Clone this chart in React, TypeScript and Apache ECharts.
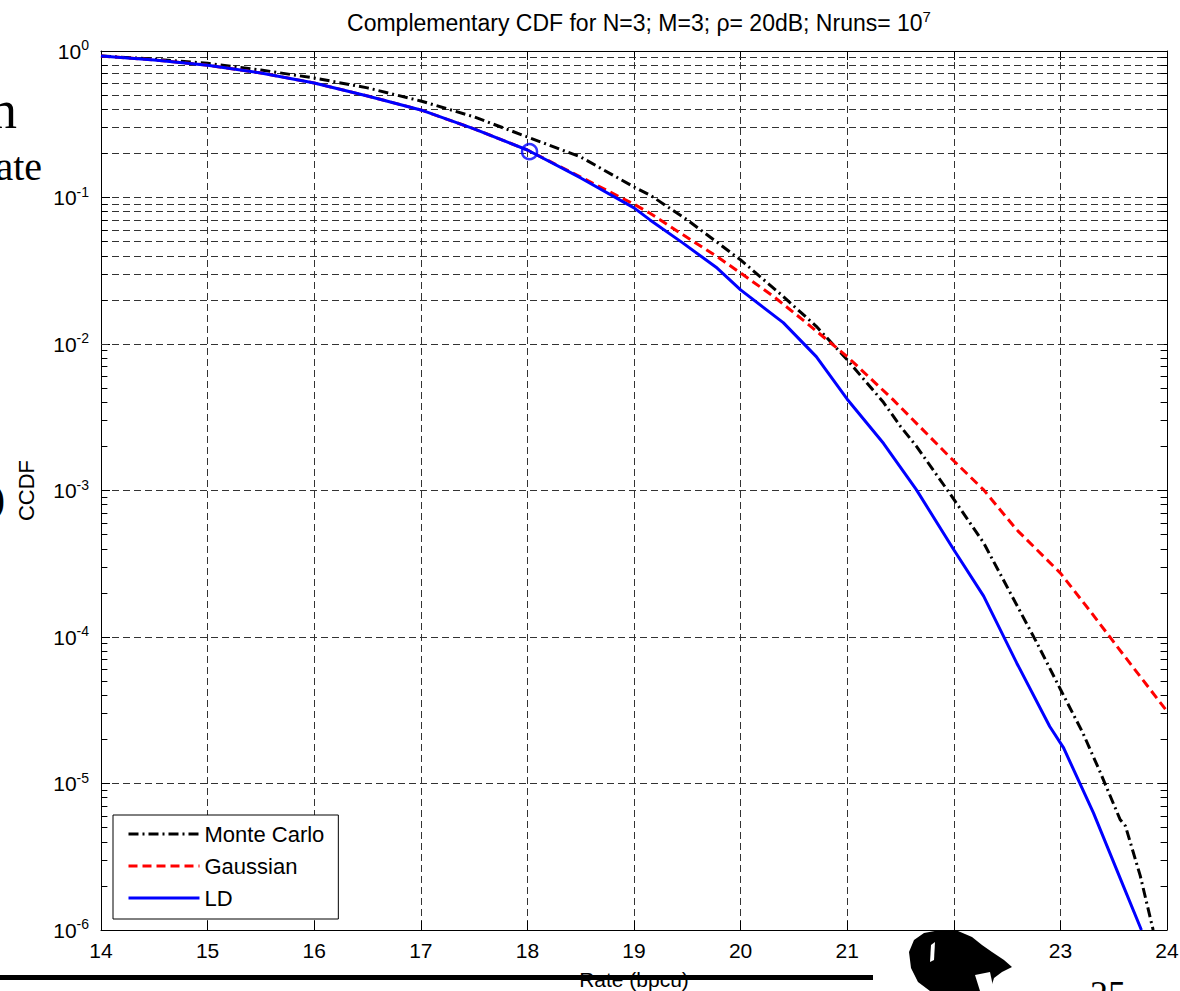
import React, { useEffect, useRef } from "react";
import * as echarts from "echarts";

// ---- data ----
const xTicks = [14, 15, 16, 17, 18, 19, 20, 21, 22, 23, 24];
const decadeExponents = [0, -1, -2, -3, -4, -5, -6];

const monteCarlo: [number, number][] = [
  [14, 0.925], [14.5, 0.88], [15, 0.824], [15.5, 0.742], [16, 0.654], [16.5, 0.56],
  [17, 0.456], [17.5, 0.355], [18, 0.259], [18.5, 0.189], [19, 0.118], [19.15, 0.104],
  [19.5, 0.0703], [20, 0.0375], [20.4, 0.0211], [20.71, 0.0132], [21, 0.0078],
  [21.34, 0.004], [21.5, 0.00274], [21.65, 0.002], [21.96, 9.6e-4], [22.28, 4.39e-4],
  [22.53, 2.0e-4], [22.78, 9.1e-5], [23.0, 4.4e-5], [23.21, 2.22e-5], [23.37, 1.21e-5],
  [23.56, 5.68e-6], [23.61, 5.13e-6], [23.75, 2.33e-6], [23.87, 1e-6],
];

const gaussian: [number, number][] = [
  [14, 0.925], [14.5, 0.869], [15, 0.8], [15.5, 0.708], [16, 0.605], [16.5, 0.493],
  [17, 0.396], [17.5, 0.294], [18, 0.211], [18.5, 0.138], [19, 0.09], [19.15, 0.078],
  [19.46, 0.0556], [19.78, 0.0395], [20, 0.0305], [20.31, 0.0211], [20.62, 0.0139],
  [21, 0.0082], [21.43, 0.00417], [21.96, 0.0017], [22.28, 0.00101], [22.59, 5.4e-4],
  [23.0, 2.73e-4], [23.28, 1.5e-4], [23.53, 8.65e-5], [24, 3.11e-5],
];

const ld: [number, number][] = [
  [14, 0.925], [14.5, 0.869], [15, 0.8], [15.5, 0.708], [16, 0.605], [16.5, 0.493],
  [17, 0.396], [17.5, 0.294], [18, 0.211], [18.5, 0.136], [19, 0.085], [19.15, 0.0703],
  [19.46, 0.0488], [19.78, 0.033], [20, 0.0234], [20.4, 0.014], [20.71, 0.0082],
  [21, 0.0042], [21.34, 0.0021], [21.65, 0.00101], [22.0, 3.94e-4], [22.28, 1.9e-4],
  [22.59, 6.65e-5], [22.9, 2.45e-5], [23.03, 1.75e-5], [23.31, 6.3e-6], [23.59, 2.0e-6],
  [23.76, 1e-6],
];

const marker: [number, number][] = [[18.02, 0.2056]];

const minorMultipliers = [2, 3, 4, 5, 6, 7, 8, 9];
const minorDecades = [-6, -5, -4, -3, -2, -1];

const FONT = '"Liberation Sans", Arial, sans-serif';
const SERIF = '"Liberation Serif", "Times New Roman", serif';

export default function App() {
  const ref = useRef<HTMLDivElement>(null);

  useEffect(() => {
    if (!ref.current) return;
    const chart = echarts.init(ref.current, undefined, { renderer: "svg" });

    const minorVals: number[] = [];
    minorDecades.forEach((d) =>
      minorMultipliers.forEach((m) => minorVals.push(m * Math.pow(10, d)))
    );
    const xMin = xTicks[0];
    const xMax = xTicks[xTicks.length - 1];
    const tickLen = 0.06;

    const gridColor = "#333";
    const gridDash = [7, 4];

    const axisCommon = {
      axisLine: { show: true, onZero: false, lineStyle: { color: "#000", width: 1 } },
      axisTick: { show: true, inside: true, length: 9, lineStyle: { color: "#000", width: 1 } },
    };

    const option: any = {
      animation: false,
      backgroundColor: "#fff",
      title: {
        text: "{a|Complementary CDF for N=3; M=3; ρ= 20dB; Nruns= 10}{s|7}",
        left: 634,
        top: 4,
        textAlign: "center",
        textStyle: {
          fontWeight: "normal",
          rich: {
            a: { fontSize: 23, fontFamily: FONT, fontWeight: "normal", color: "#000", lineHeight: 28 },
            s: { fontSize: 15, fontFamily: FONT, fontWeight: "normal", color: "#000", verticalAlign: "top", lineHeight: 15 },
          },
        },
      },
      legend: {
        data: ["Monte Carlo", "Gaussian", "LD"],
        orient: "vertical",
        left: 113,
        top: 815,
        itemWidth: 71,
        itemHeight: 14,
        itemGap: 10,
        padding: [8, 14, 10, 14],
        backgroundColor: "#fff",
        borderColor: "#000",
        borderWidth: 1,
        borderRadius: 0,
        itemStyle: { opacity: 0 },
        lineStyle: { width: 3 },
        textStyle: { fontSize: 22, fontFamily: FONT, color: "#000" },
        z: 10,
      },
      grid: { left: 101, right: 13, top: 51, bottom: 61, containLabel: false, outerBoundsMode: "none" },
      xAxis: [
        {
          type: "value",
          min: xMin,
          max: xMax,
          interval: 1,
          position: "bottom",
          ...axisCommon,
          axisLabel: { fontSize: 21, fontFamily: FONT, color: "#000", margin: 10 },
          splitLine: { show: true, lineStyle: { color: gridColor, type: gridDash, width: 1 } },
          name: "Rate (bpcu)",
          nameLocation: "middle",
          nameGap: 39,
          nameTextStyle: { fontSize: 21, fontFamily: FONT, color: "#000" },
        },
        {
          type: "value",
          min: xMin,
          max: xMax,
          interval: 1,
          position: "top",
          ...axisCommon,
          axisLabel: { show: false },
          splitLine: { show: false },
        },
      ],
      yAxis: [
        {
          type: "log",
          logBase: 10,
          min: Math.pow(10, decadeExponents[decadeExponents.length - 1]),
          max: Math.pow(10, decadeExponents[0]),
          splitNumber: 6,
          position: "left",
          ...axisCommon,
          axisLabel: {
            margin: 12,
            formatter: (v: number) => `{b|10}{s|${Math.round(Math.log10(v))}}`,
            rich: {
              b: { fontSize: 21, fontFamily: FONT, color: "#000", lineHeight: 26 },
              s: { fontSize: 14, fontFamily: FONT, color: "#000", verticalAlign: "top", lineHeight: 14 },
            },
          },
          splitLine: { show: true, lineStyle: { color: gridColor, type: gridDash, width: 1 } },
          name: "CCDF",
          nameLocation: "middle",
          nameGap: 64,
          nameRotate: 90,
          nameTextStyle: { fontSize: 22, fontFamily: FONT, color: "#000" },
        },
        {
          type: "log",
          logBase: 10,
          min: Math.pow(10, decadeExponents[decadeExponents.length - 1]),
          max: Math.pow(10, decadeExponents[0]),
          splitNumber: 6,
          position: "right",
          ...axisCommon,
          axisLabel: { show: false },
          splitLine: { show: false },
        },
      ],
      series: [
        {
          name: "grid-minor",
          type: "line",
          data: [],
          silent: true,
          z: 1,
          markLine: {
            silent: true,
            z: 1,
            symbol: ["none", "none"],
            label: { show: false },
            emphasis: { disabled: true },
            lineStyle: { color: gridColor, type: gridDash, width: 1 },
            data: minorVals.map((v) => ({ yAxis: v })),
          },
        },
        {
          name: "ticks-minor",
          type: "line",
          data: [],
          silent: true,
          z: 1,
          markLine: {
            silent: true,
            z: 1,
            symbol: ["none", "none"],
            label: { show: false },
            emphasis: { disabled: true },
            lineStyle: { color: "#000", type: "solid", width: 1 },
            data: minorVals.flatMap((v) => [
              [{ coord: [xMin, v] }, { coord: [xMin + tickLen, v] }],
              [{ coord: [xMax - tickLen, v] }, { coord: [xMax, v] }],
            ]),
          },
        },
        {
          name: "Monte Carlo",
          type: "line",
          data: monteCarlo,
          symbol: "none",
          lineStyle: { color: "#000", width: 3, type: [10, 4, 2, 4] },
          itemStyle: { color: "#000" },
          z: 3,
        },
        {
          name: "Gaussian",
          type: "line",
          data: gaussian,
          symbol: "none",
          lineStyle: { color: "#ff0000", width: 3, type: [9, 5] },
          itemStyle: { color: "#ff0000" },
          z: 3,
        },
        {
          name: "LD",
          type: "line",
          data: ld,
          symbol: "none",
          lineStyle: { color: "#0000ff", width: 3, type: "solid" },
          itemStyle: { color: "#0000ff" },
          z: 3,
        },
        {
          name: "marker",
          type: "scatter",
          data: marker,
          symbol: "circle",
          symbolSize: 15,
          itemStyle: { color: "rgba(0,0,0,0)", borderColor: "#0000ff", borderWidth: 2.5 },
          z: 4,
        },
      ],
      graphic: [
        { type: "text", x: 17, y: 110, z: 50, style: { text: "n", font: `54px ${SERIF}`, fill: "#000", align: "right", verticalAlign: "middle" } },
        { type: "text", x: 42, y: 166, z: 50, style: { text: "ate", font: `40px ${SERIF}`, fill: "#000", align: "right", verticalAlign: "middle" } },
        { type: "text", x: 5, y: 498, z: 50, style: { text: ")", font: `40px ${SERIF}`, fill: "#000", align: "right", verticalAlign: "middle" } },
        { type: "rect", z: 50, shape: { x: 0, y: 975, width: 873, height: 5 }, style: { fill: "#000" } },
        {
          type: "polygon",
          z: 60,
          shape: {
            points: [
              [909, 952], [914, 940], [924, 933], [940, 930], [958, 931], [972, 937],
              [982, 945], [992, 952], [1004, 960], [1012, 967], [1002, 972], [994, 978],
              [990, 991], [930, 991], [918, 982], [911, 968],
            ],
          },
          style: { fill: "#000" },
        },
        {
          type: "polygon",
          z: 61,
          shape: { points: [[931, 945], [935, 942], [934, 960], [930, 962]] },
          style: { fill: "#fff" },
        },
        {
          type: "polygon",
          z: 61,
          shape: { points: [[975, 975], [990, 972], [994, 991], [980, 991]] },
          style: { fill: "#fff" },
        },
        { type: "text", x: 1090, y: 976, z: 50, style: { text: "25", font: `36px ${SERIF}`, fill: "#000", align: "left", verticalAlign: "top" } },
      ],
    };

    chart.setOption(option);
    return () => chart.dispose();
  }, []);

  return (
    <div
      ref={ref}
      style={{ position: "fixed", left: 0, top: 0, width: 1180, height: 991, background: "#fff" }}
    />
  );
}
